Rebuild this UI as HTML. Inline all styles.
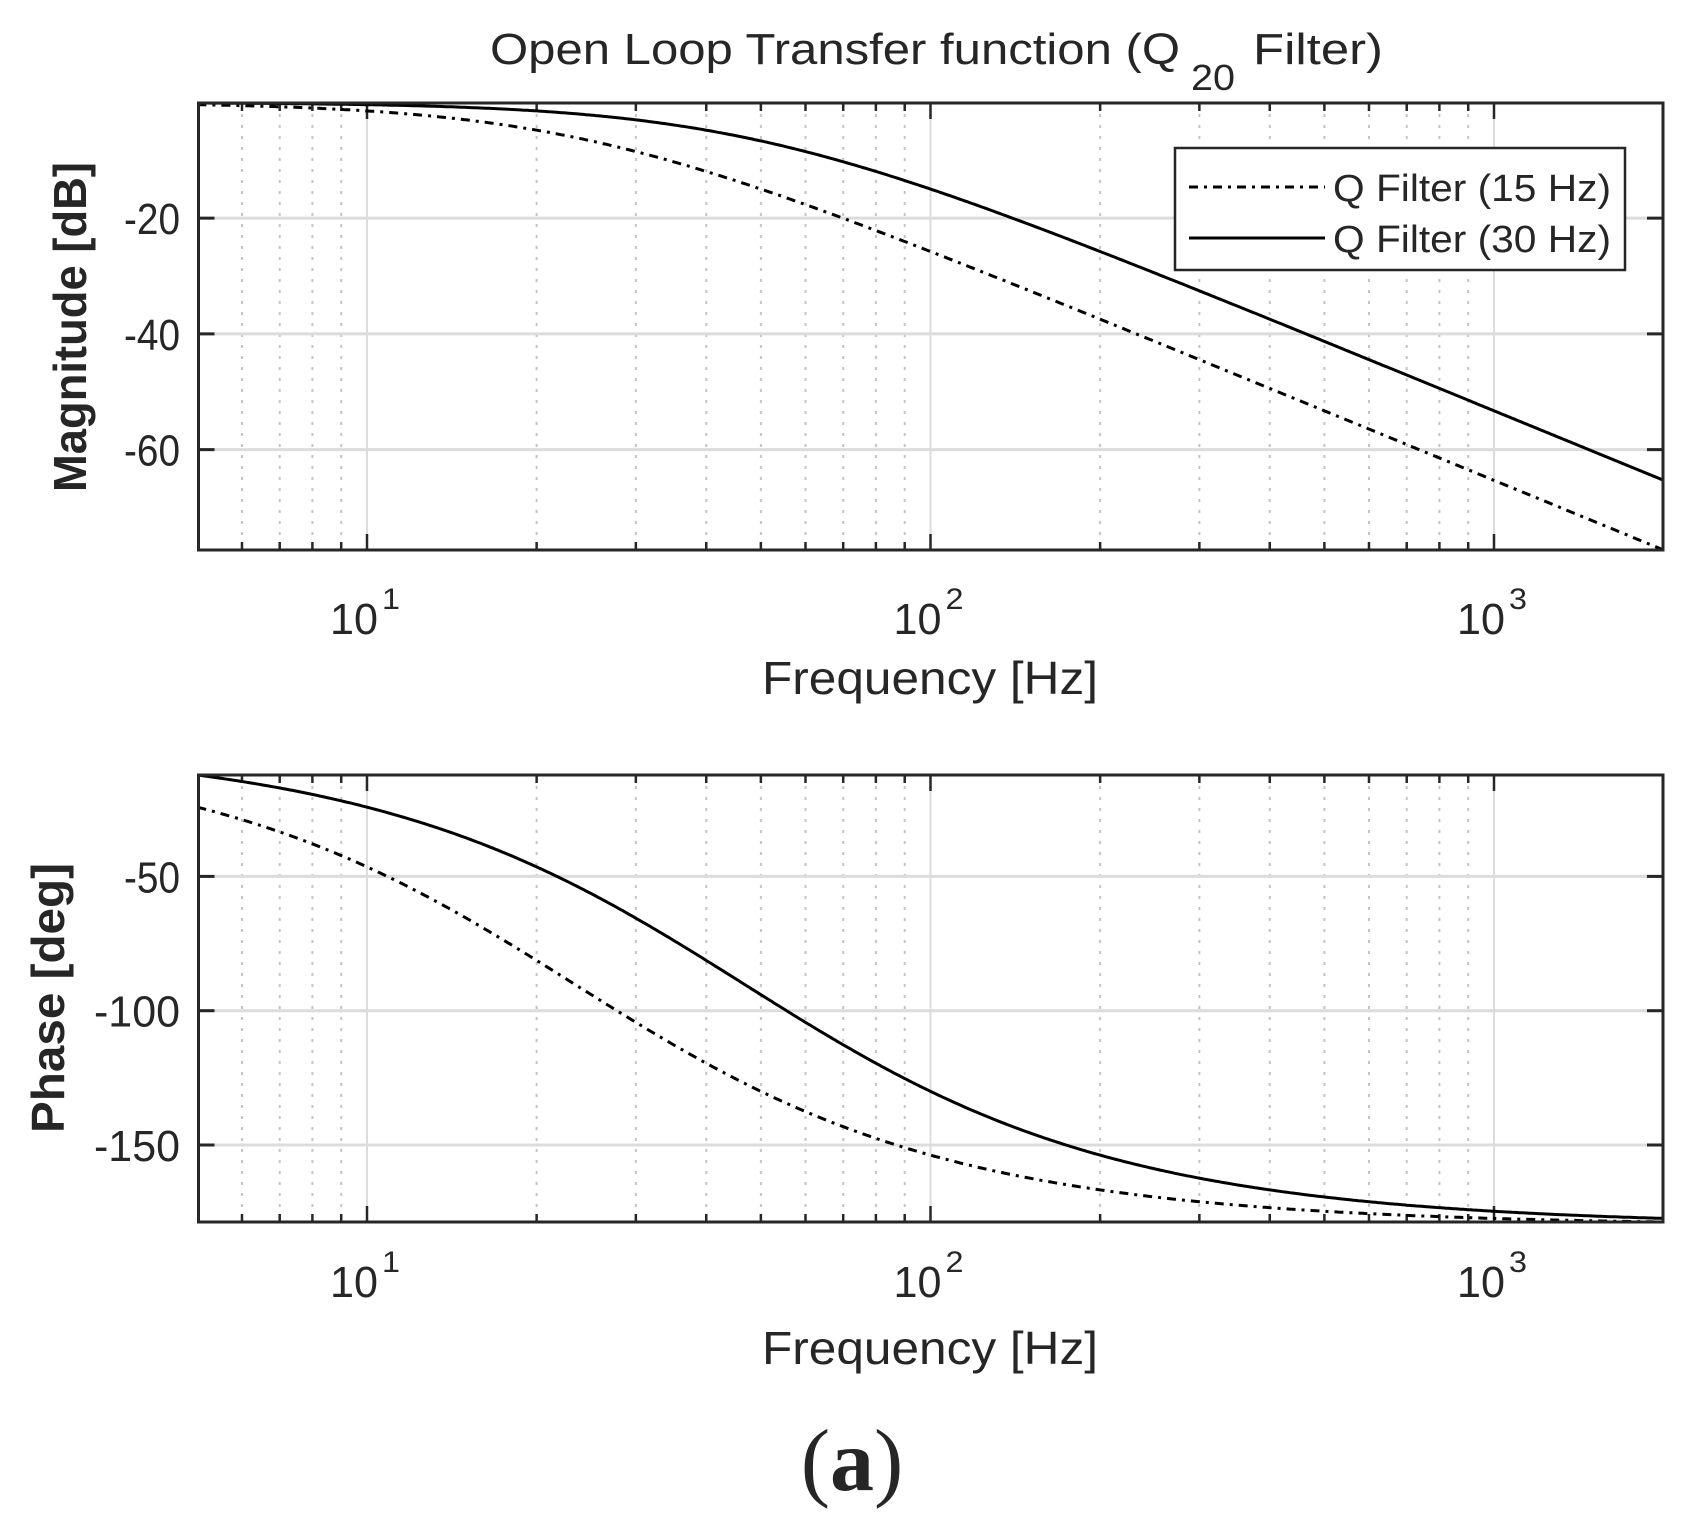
<!DOCTYPE html>
<html><head><meta charset="utf-8"><style>
html,body{margin:0;padding:0;background:#fff;}
svg{display:block;}
text{font-family:"Liberation Sans",Arial,sans-serif;fill:#262626;}
</style></head><body>
<svg id="s" width="1689" height="1525" xmlns="http://www.w3.org/2000/svg">
<text x="490" y="64" font-size="44" fill="#000" textLength="690" lengthAdjust="spacingAndGlyphs">Open Loop Transfer function (Q</text>
<text x="1191" y="90" font-size="36" fill="#000" textLength="44" lengthAdjust="spacingAndGlyphs">20</text>
<text x="1253" y="64" font-size="44" fill="#000" textLength="130" lengthAdjust="spacingAndGlyphs">Filter)</text>
<text transform="translate(86,327) rotate(-90)" font-size="46" text-anchor="middle" font-weight="bold" textLength="330" lengthAdjust="spacingAndGlyphs">Magnitude [dB]</text>
<text transform="translate(64,998) rotate(-90)" font-size="46" text-anchor="middle" font-weight="bold" textLength="270" lengthAdjust="spacingAndGlyphs">Phase [deg]</text>
<text x="930" y="694" font-size="46" text-anchor="middle" textLength="336" lengthAdjust="spacingAndGlyphs">Frequency [Hz]</text>
<text x="930" y="1364" font-size="46" text-anchor="middle" textLength="336" lengthAdjust="spacingAndGlyphs">Frequency [Hz]</text>
<text x="852" y="1490" font-size="88" text-anchor="middle" style="font-family:'Liberation Serif',serif" fill="#000">(<tspan font-weight="bold">a</tspan>)</text>
<g id="g"></g>
</svg>
<script>
var L=198.5,R=1663,D=563.5,x10=367;
function X(f){return x10+(Math.log10(f)-1)*D;}
var g=document.getElementById('g'),h='';
function mag(f,p){return -20*Math.log10(1+(f/p)*(f/p));}
function ph(f,p){return -2*Math.atan(f/p)*180/Math.PI;}
var p15=23.3,p30=46.6;
function panel(T,B,ymax,ymin,ticks,fn,tickY){
 function Y(v){return T+(ymax-v)/(ymax-ymin)*(B-T);}
 for(var d=0;d<4;d++)for(var k=1;k<10;k++){var f=k*Math.pow(10,d);if(f<=5||f>=2000)continue;var x=X(f);
  if(k==1){h+='<line x1="'+x+'" y1="'+T+'" x2="'+x+'" y2="'+B+'" stroke="#dcdcdc" stroke-width="2"/>';
   h+='<line x1="'+x+'" y1="'+T+'" x2="'+x+'" y2="'+(T+16)+'" stroke="#262626" stroke-width="2.5"/><line x1="'+x+'" y1="'+B+'" x2="'+x+'" y2="'+(B-16)+'" stroke="#262626" stroke-width="2.5"/>';}
  else{h+='<line x1="'+x+'" y1="'+T+'" x2="'+x+'" y2="'+B+'" stroke="#c4c4c4" stroke-width="2" stroke-dasharray="3,8"/>';
   h+='<line x1="'+x+'" y1="'+T+'" x2="'+x+'" y2="'+(T+8)+'" stroke="#262626" stroke-width="2.5"/><line x1="'+x+'" y1="'+B+'" x2="'+x+'" y2="'+(B-8)+'" stroke="#262626" stroke-width="2.5"/>';}}
 ticks.forEach(function(v){var y=Y(v);
  h+='<line x1="'+L+'" y1="'+y+'" x2="'+R+'" y2="'+y+'" stroke="#dcdcdc" stroke-width="3"/>';
  h+='<line x1="'+L+'" y1="'+y+'" x2="'+(L+16)+'" y2="'+y+'" stroke="#262626" stroke-width="3"/><line x1="'+R+'" y1="'+y+'" x2="'+(R-16)+'" y2="'+y+'" stroke="#262626" stroke-width="3"/>';
  var w=String(v).length==3?56:86;
  h+='<text x="180" y="'+(y+16)+'" font-size="44" text-anchor="end" textLength="'+w+'" lengthAdjust="spacingAndGlyphs">'+v+'</text>';});
 [[1,x10],[2,x10+D],[3,x10+2*D]].forEach(function(a){
  h+='<text x="'+(a[1]-37)+'" y="'+tickY+'" font-size="44" textLength="48" lengthAdjust="spacingAndGlyphs">10</text>';
  h+='<text x="'+(a[1]+15)+'" y="'+(tickY-25)+'" font-size="30" textLength="18" lengthAdjust="spacingAndGlyphs">'+a[0]+'</text>';});
 [[p15,'9,6,3,6'],[p30,'']].forEach(function(s){var d='';
  for(var i=0;i<=600;i++){var lf=Math.log10(5)+i/600*(Math.log10(2000)-Math.log10(5));var f=Math.pow(10,lf);
   d+=(i?'L':'M')+X(f).toFixed(1)+','+Y(fn(f,s[0])).toFixed(1);}
  h+='<path d="'+d+'" fill="none" stroke="#000" stroke-width="3"'+(s[1]?' stroke-dasharray="'+s[1]+'"':'')+'/>';});
 h+='<rect x="'+L+'" y="'+T+'" width="'+(R-L)+'" height="'+(B-T)+'" fill="none" stroke="#262626" stroke-width="3"/>';
}
panel(103,550,mag(5,p30),mag(2000,p15),[-20,-40,-60],mag,634);
panel(775,1222,ph(5,p30),ph(2000,p15),[-50,-100,-150],ph,1297);
h+='<rect x="1175" y="148" width="450" height="122" fill="#fff" stroke="#262626" stroke-width="2.5"/>';
h+='<line x1="1189" y1="187" x2="1325" y2="187" stroke="#000" stroke-width="3" stroke-dasharray="9,6,3,6"/>';
h+='<line x1="1189" y1="238" x2="1325" y2="238" stroke="#000" stroke-width="3"/>';
h+='<text x="1333" y="201" font-size="38" fill="#000" textLength="278" lengthAdjust="spacingAndGlyphs">Q Filter (15 Hz)</text>';
h+='<text x="1333" y="252" font-size="38" fill="#000" textLength="278" lengthAdjust="spacingAndGlyphs">Q Filter (30 Hz)</text>';
g.innerHTML=h;
</script>
</body></html>
